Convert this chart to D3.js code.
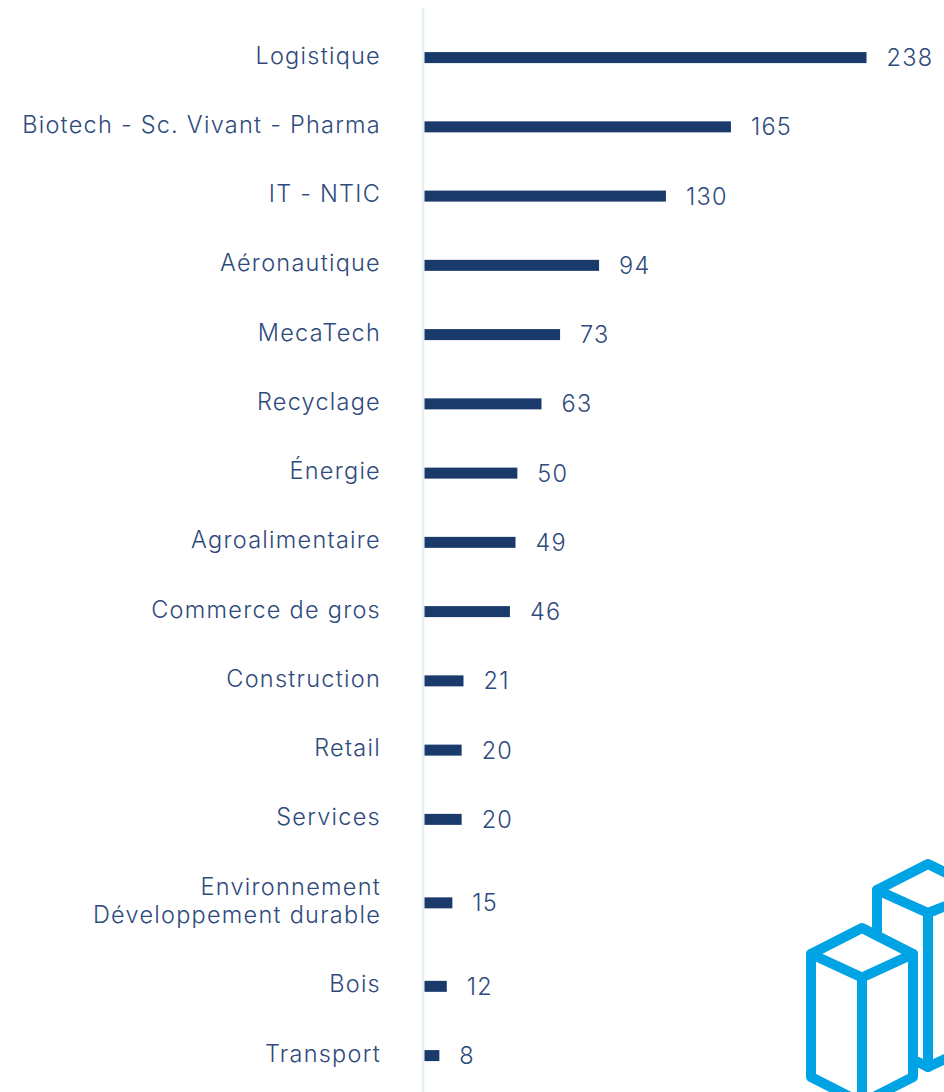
<!DOCTYPE html>
<html lang="fr"><head><meta charset="utf-8">
<script src="https://cdn.jsdelivr.net/npm/d3@7/dist/d3.min.js"></script>
<style>html,body{margin:0;padding:0;background:#fff;overflow:hidden}svg{display:block}
text{font-family:Inter,"Noto Sans",sans-serif;font-weight:300;font-size:23.5px;fill:#2f4a7c;letter-spacing:1.25px}</style>
</head><body><svg id="c" width="944" height="1092"></svg>
<script>
const categories = ["Logistique","Biotech - Sc. Vivant - Pharma","IT - NTIC","Aéronautique","MecaTech","Recyclage","Énergie","Agroalimentaire","Commerce de gros","Construction","Retail","Services","Environnement\nDéveloppement durable","Bois","Transport"];
const values = [238,165,130,94,73,63,50,49,46,21,20,20,15,12,8];

const svg = d3.select("#c");
const lineUnit = 14.25 / 69.3;
const lines = categories.map(c => c.split("\n"));
// row centres in row units: a two-line label pushes its neighbours apart
const rowPos = [0];
for (let i = 1; i < lines.length; i++)
  rowPos.push(rowPos[i-1] + 1 + (lines[i-1].length - 1 + lines[i].length - 1) * lineUnit);
const y = d3.scaleLinear().domain([0, rowPos[rowPos.length-1]]).range([55, 1053]);
const x = d3.scaleLinear().domain([0, 238]).range([424.5, 866.5]);
const barH = 11, barShift = 2.6, valueShift = 2.5;

// icon
const icon = svg.append("g").attr("fill","none").attr("stroke","#00a3e4").attr("stroke-width",10).attr("stroke-linejoin","round").attr("stroke-linecap","round");
[
 "M877 932V890L928 864L985 892V1040L928 1067L918 1062",
 "M877 890L928 913L985 890",
 "M928 913V1067",
 "M811 954L862 928L913 954V1077L862 1103L811 1077Z",
 "M811 954L862 977.5L913 954",
 "M862 977.5V1110"
].forEach(d => icon.append("path").attr("d", d));

// category axis line
svg.append("line").attr("x1",423).attr("x2",423).attr("y1",8).attr("y2",1092).attr("stroke","#e6f1f3").attr("stroke-width",2.5);

const rows = svg.selectAll("g.row").data(categories).join("g").attr("class","row");
rows.append("rect")
  .attr("x", x(0)).attr("y", (d,i) => y(rowPos[i]) + barShift - barH/2)
  .attr("width", (d,i) => x(values[i]) - x(0)).attr("height", barH).attr("fill","#1a3a6b");
rows.append("text")
  .attr("x", (d,i) => x(values[i]) + 20).attr("y", (d,i) => y(rowPos[i]) + valueShift)
  .attr("dominant-baseline","central").text((d,i) => values[i]);
rows.each(function(d,i){
  const ls = lines[i], g = d3.select(this);
  ls.forEach((t,k) => g.append("text")
    .attr("x",381).attr("text-anchor","end").attr("dominant-baseline","central")
    .attr("y", y(rowPos[i]) + (k - (ls.length-1)/2) * 28.5).text(t));
});
</script></body></html>
